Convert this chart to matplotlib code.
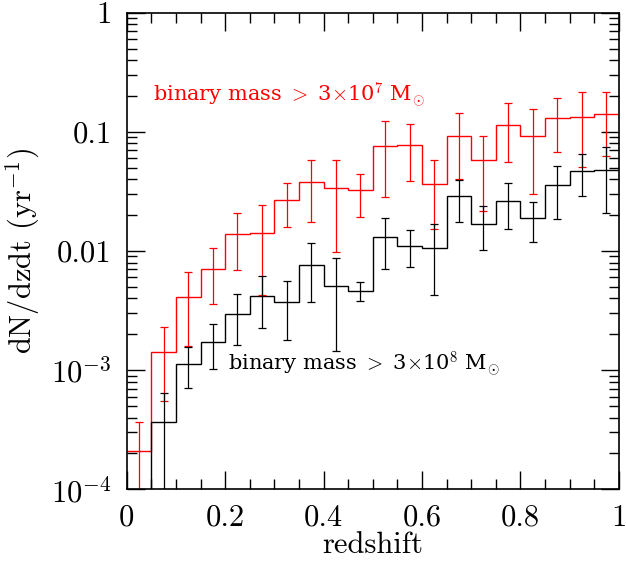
import numpy as np
import matplotlib
matplotlib.use("Agg")
import matplotlib.pyplot as plt
from matplotlib.ticker import FixedLocator, FixedFormatter, NullFormatter

plt.rcParams['font.family'] = ['cmr10', 'DejaVu Serif']
plt.rcParams['mathtext.fontset'] = 'cm'
plt.rcParams['axes.formatter.use_mathtext'] = True

# redshift bins
edges = np.linspace(0, 1, 21)
centers = 0.5 * (edges[:-1] + edges[1:])

# binary mass > 3e7 Msun (red)
red_val = [2.1e-4, 1.43e-3, 4.1e-3, 7.1e-3, 0.014, 0.0142, 0.0266, 0.0378, 0.034, 0.0322,
           0.0768, 0.0778, 0.0367, 0.092, 0.058, 0.1145, 0.093, 0.13, 0.134, 0.142]
red_hi = [3.7e-4, 2.3e-3, 6.6e-3, 0.0105, 0.021, 0.0243, 0.037, 0.058, 0.058, 0.0447,
          0.124, 0.117, 0.058, 0.143, 0.093, 0.174, 0.155, 0.191, 0.218, 0.216]
red_lo = [0, 5.5e-4, 1.6e-3, 3.6e-3, 6.9e-3, 4.3e-3, 0.016, 0.0176, 9.8e-3, 0.0194,
          0.0285, 0.039, 0.0154, 0.040, 0.0215, 0.0556, 0.0298, 0.0675, 0.051, 0.063]

# binary mass > 3e8 Msun (black)
blk_val = [0, 3.7e-4, 1.12e-3, 1.73e-3, 2.98e-3, 4.2e-3, 3.7e-3, 7.7e-3, 5.1e-3, 4.65e-3,
           0.0131, 0.0111, 0.0106, 0.0287, 0.017, 0.0262, 0.019, 0.0355, 0.0468, 0.0483]
blk_hi = [np.nan, 6.4e-4, 1.55e-3, 2.44e-3, 4.35e-3, 6.2e-3, 5.6e-3, 0.0116, 8.7e-3, 5.5e-3,
          0.019, 0.0149, 0.0169, 0.0398, 0.024, 0.037, 0.026, 0.052, 0.065, 0.0743]
blk_lo = [np.nan, 0, 7.1e-4, 1.02e-3, 1.62e-3, 2.27e-3, 1.78e-3, 3.7e-3, 1.44e-3, 3.8e-3,
          7.0e-3, 7.4e-3, 4.3e-3, 0.0175, 0.0101, 0.0152, 0.0119, 0.0187, 0.0287, 0.021]

xticks = [0, 0.2, 0.4, 0.6, 0.8, 1.0]
xticklabels = ['0', '0.2', '0.4', '0.6', '0.8', '1']
yticks = [1e-4, 1e-3, 1e-2, 1e-1, 1]
yticklabels = [r'$10^{-4}$', r'$10^{-3}$', '0.01', '0.1', '1']

fig = plt.figure(figsize=(6.26, 5.63), dpi=100)
ax = fig.add_axes([0.2024, 0.131, 0.786, 0.8464])
ax.set_yscale('log', nonpositive='clip')

for val, lo, hi, col in [(red_val, red_lo, red_hi, 'red'), (blk_val, blk_lo, blk_hi, 'black')]:
    val = np.array(val); lo = np.array(lo); hi = np.array(hi)
    ax.stairs(val, edges, baseline=None, color=col, lw=1.0)
    ax.errorbar(centers, val, yerr=[val - lo, hi - val], fmt='none', ecolor=col,
                elinewidth=0.9, capsize=3, capthick=0.9)

ax.set_xlim(0, 1)
ax.set_ylim(1e-4, 1)

ax.xaxis.set_major_locator(FixedLocator(xticks))
ax.xaxis.set_major_formatter(FixedFormatter(xticklabels))
ax.xaxis.set_minor_locator(FixedLocator(np.arange(0, 1.001, 0.05)))

ax.yaxis.set_major_locator(FixedLocator(yticks))
ax.yaxis.set_major_formatter(FixedFormatter(yticklabels))
minors = [m * 10.0 ** e for e in range(-4, 0) for m in range(2, 10)]
ax.yaxis.set_minor_locator(FixedLocator(minors))
ax.yaxis.set_minor_formatter(NullFormatter())

ax.tick_params(which='both', direction='in', top=True, right=True, width=1.0, labelsize=22)
ax.tick_params(which='major', length=13, pad=11)
ax.tick_params(which='minor', length=7)
for s in ax.spines.values():
    s.set_linewidth(1.2)

ax.set_xlabel('redshift', fontsize=22, labelpad=0)
ax.set_ylabel(r'dN/dzdt (yr$^{-1}$)', fontsize=22, labelpad=6)

ax.text(0.053, 0.18, r'binary mass $>$ 3$\times$10$^{7}$ M$_{\odot}$', color='red',
        fontsize=15, family='DejaVu Serif', va='baseline')
ax.text(0.205, 1.0e-3, r'binary mass $>$ 3$\times$10$^{8}$ M$_{\odot}$', color='black',
        fontsize=15, family='DejaVu Serif', va='baseline')

fig.savefig('out.png', dpi=100)
